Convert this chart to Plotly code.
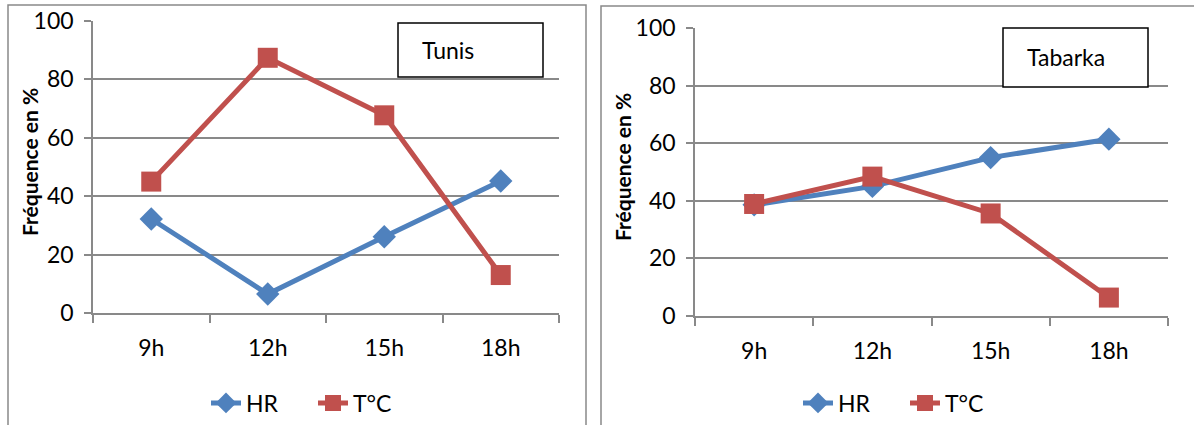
"""Fréquence HR / T°C par heure - Tunis et Tabarka."""

import plotly.graph_objects as go

W, H = 1194, 425

hours = ["9h", "12h", "15h", "18h"]
tunis_hr = [32.2, 6.5, 26.1, 45.2]
tunis_tc = [45.0, 87.4, 67.7, 13.0]
tabarka_hr = [38.6, 45.0, 55.0, 61.4]
tabarka_tc = [38.9, 48.4, 35.6, 6.4]

BLUE = "#4F81BD"
RED = "#C0504D"
GRID = "#898989"
FONT = "Lato, Open Sans, sans-serif"


def px(x):
    return x / W


def py(y):
    return 1 - y / H


fig = go.Figure()

panels = [
    ("", tunis_hr, tunis_tc, "legend", (93, 559), (21, 313), 30),
    ("2", tabarka_hr, tabarka_tc, "legend2", (695, 1168), (28, 316), 622),
]

for suffix, hr, tc, leg, (x0, x1), (y0, y1), title_x in panels:
    fig.add_trace(
        go.Scatter(
            x=hours, y=hr, name="HR", mode="lines+markers",
            line={"color": BLUE, "width": 5},
            marker={"symbol": "diamond", "size": 18, "color": BLUE},
            xaxis="x" + suffix, yaxis="y" + suffix, legend=leg,
        )
    )
    fig.add_trace(
        go.Scatter(
            x=hours, y=tc, name="T°C", mode="lines+markers",
            line={"color": RED, "width": 5},
            marker={"symbol": "square", "size": 20, "color": RED},
            xaxis="x" + suffix, yaxis="y" + suffix, legend=leg,
        )
    )
    fig.update_layout(
        {
            "xaxis" + suffix: {
                "domain": [px(x0), px(x1)],
                "anchor": "y" + suffix,
                "type": "category",
                "range": [-0.5, 3.5],
                "tickson": "boundaries",
                "ticks": "outside",
                "ticklen": 8,
                "tickcolor": GRID,
                "tickwidth": 1.5,
                "ticklabelstandoff": 14,
                "showgrid": False,
                "showline": True,
                "linecolor": GRID,
                "linewidth": 1.5,
                "automargin": False,
                "tickfont": {"size": 23, "color": "black", "family": FONT},
                "fixedrange": True,
            },
            "yaxis" + suffix: {
                "domain": [py(y1), py(y0)],
                "anchor": "x" + suffix,
                "range": [0, 100],
                "dtick": 20,
                "ticks": "outside",
                "ticklen": 7,
                "tickcolor": GRID,
                "tickwidth": 1.5,
                "ticklabelstandoff": 6,
                "showgrid": True,
                "gridcolor": GRID,
                "gridwidth": 1.5,
                "showline": True,
                "linecolor": GRID,
                "linewidth": 1.5,
                "zeroline": False,
                "automargin": False,
                "tickfont": {"size": 23, "color": "black", "family": FONT},
                "fixedrange": True,
            },
        }
    )
    fig.add_annotation(
        text="<b>Fréquence en %</b>", xref="paper", yref="paper",
        x=px(title_x), y=py((y0 + y1) / 2 - 5), textangle=-90,
        xanchor="center", yanchor="middle", showarrow=False,
        font={"size": 21, "color": "black", "family": FONT},
    )

legend_style = {
    "orientation": "h",
    "yanchor": "middle",
    "xanchor": "center",
    "font": {"size": 23, "color": "black", "family": FONT},
    "bgcolor": "rgba(0,0,0,0)",
    "itemwidth": 30,
    "entrywidth": 62,
    "tracegroupgap": 0,
}
fig.update_layout(
    legend={**legend_style, "x": px(313), "y": py(403)},
    legend2={**legend_style, "x": px(905), "y": py(403)},
)

# outer frames of the two charts
for x0, y0, x1 in [(8, 5, 586), (601, 6, 1200)]:
    fig.add_shape(
        type="rect", xref="paper", yref="paper",
        x0=px(x0), x1=px(x1), y0=py(y0), y1=py(440),
        line={"color": GRID, "width": 1.5}, layer="below",
    )

# title boxes
for name, (x0, y0, x1, y1), tx in [
    ("Tunis", (398, 23, 543, 77), 420),
    ("Tabarka", (1003, 28, 1148, 87), 1025),
]:
    fig.add_shape(
        type="rect", xref="paper", yref="paper",
        x0=px(x0), x1=px(x1), y0=py(y1), y1=py(y0),
        line={"color": "black", "width": 1.5}, fillcolor="white",
    )
    fig.add_annotation(
        text=name, xref="paper", yref="paper",
        x=px(tx), y=py((y0 + y1) / 2), xanchor="left", yanchor="middle",
        showarrow=False, font={"size": 23, "color": "black", "family": FONT},
    )

fig.update_layout(
    width=W,
    height=H,
    margin={"l": 0, "r": 0, "t": 0, "b": 0},
    paper_bgcolor="white",
    plot_bgcolor="white",
    showlegend=True,
)

fig.write_html(
    "out.html",
    config={"displayModeBar": False},
    post_script="document.body.style.margin = '0px';",
)
